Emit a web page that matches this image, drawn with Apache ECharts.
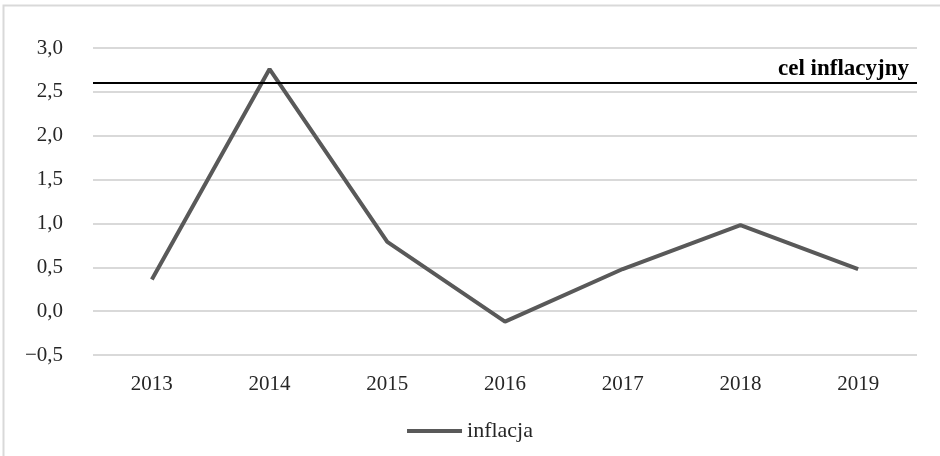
<!DOCTYPE html>
<html>
<head>
<meta charset="utf-8">
<script src="https://cdn.jsdelivr.net/npm/echarts@6/dist/echarts.min.js"></script>
<style>
  html, body { margin: 0; padding: 0; background: #fff; }
  #chart { width: 940px; height: 456px; }
</style>
</head>
<body>
<div id="chart"></div>
<script>
const years = ['2013', '2014', '2015', '2016', '2017', '2018', '2019']
const inflacja = [0.36, 2.76, 0.79, -0.12, 0.48, 0.98, 0.48]
const celInflacyjny = 2.6

const font = '"Liberation Serif", "DejaVu Serif", serif'
const chart = echarts.init(document.getElementById('chart'))

chart.setOption({
  animation: false,
  textStyle: { fontFamily: font },
  graphic: [{
    type: 'rect',
    shape: { x: 3.5, y: 5.5, width: 1000, height: 1000 },
    style: { fill: 'none', stroke: '#d9d9d9', lineWidth: 2 },
    silent: true,
  }],
  grid: { left: 93, right: 23, top: 48, bottom: 101 },
  legend: {
    bottom: 9,
    left: 'center',
    itemWidth: 55,
    itemHeight: 4,
    itemGap: 10,
    textStyle: { color: '#262626', fontSize: 22, fontFamily: font },
    data: [{ name: 'inflacja', icon: 'rect' }],
  },
  xAxis: {
    type: 'category',
    data: years,
    axisLine: { show: false },
    axisTick: { show: false },
    axisLabel: { color: '#262626', fontSize: 21, margin: 19, fontFamily: font },
  },
  yAxis: {
    type: 'value',
    min: -0.5,
    max: 3,
    interval: 0.5,
    axisLine: { show: false },
    axisTick: { show: false },
    splitLine: { lineStyle: { color: '#d9d9d9', width: 2 } },
    axisLabel: {
      color: '#262626',
      fontSize: 21,
      margin: 30,
      fontFamily: font,
      formatter: v => v.toFixed(1).replace('.', ',').replace('-', '\u2212'),
    },
  },
  series: [{
    name: 'inflacja',
    type: 'line',
    data: inflacja,
    symbol: 'none',
    itemStyle: { color: '#595959' },
    lineStyle: { color: '#595959', width: 4 },
    markLine: {
      silent: true,
      symbol: 'none',
      data: [{ yAxis: celInflacyjny }],
      lineStyle: { color: '#000', width: 2, type: 'solid' },
      label: {
        position: 'insideEndTop',
        formatter: 'cel inflacyjny',
        color: '#000',
        fontWeight: 'bold',
        fontSize: 23,
        fontFamily: font,
        distance: [8, 3],
      },
    },
  }],
})
</script>
</body>
</html>
